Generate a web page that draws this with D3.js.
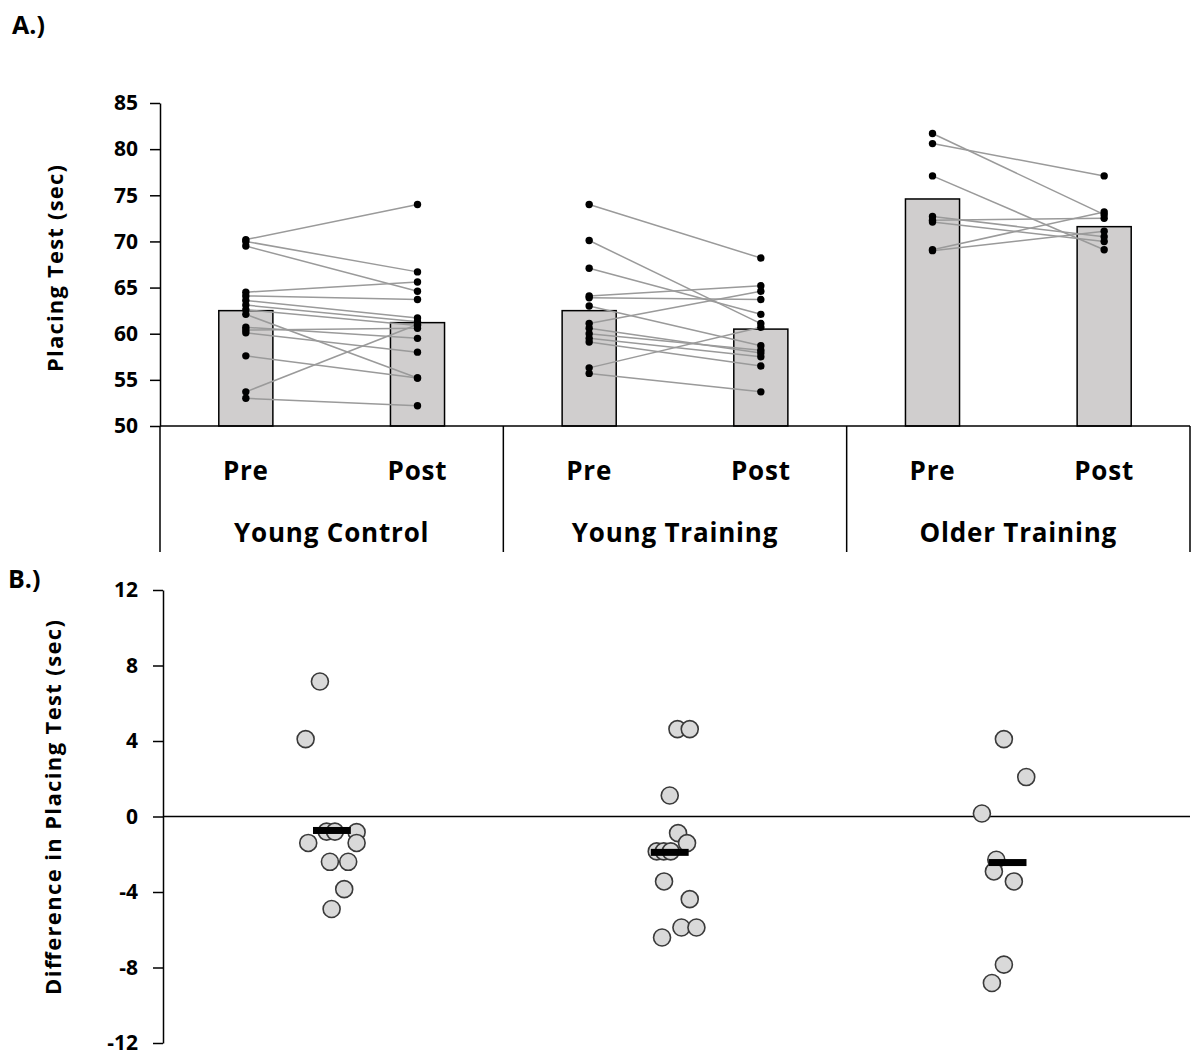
<!DOCTYPE html>
<html>
<head>
<meta charset="utf-8">
<script src="https://cdn.jsdelivr.net/npm/d3@7"></script>
<style>
  body { margin: 0; background: #fff; }
  text { font-family: "Open Sans", "Noto Sans", sans-serif; font-weight: 700; fill: #000; }
</style>
</head>
<body>
<svg id="chart" width="1201" height="1055"></svg>
<script>
// ---- Panel A: placing test times (sec), pre and post, per participant ----
const groups = ["Young Control", "Young Training", "Older Training"];
const phases = ["Pre", "Post"];
const groupMeans = [[62.5, 61.2], [62.5, 60.5], [74.6, 71.6]];

const youngControlPre  = [70.2, 70.0, 69.5, 64.5, 64.1, 63.6, 63.1, 62.6, 62.1, 60.7, 60.4, 60.1, 57.6, 53.7, 53.0];
const youngControlPost = [74.0, 66.7, 64.6, 65.6, 63.7, 61.7, 61.3, 60.9, 55.2, 59.5, 60.6, 58.0, 55.2, 61.0, 52.2];
const youngTrainingPre  = [74.0, 70.1, 67.1, 64.1, 63.9, 63.0, 61.1, 60.6, 60.0, 59.5, 59.1, 56.3, 55.7];
const youngTrainingPost = [68.2, 61.1, 62.1, 65.2, 63.7, 58.7, 64.6, 57.9, 58.2, 57.5, 56.5, 60.7, 53.7];
const olderTrainingPre  = [81.7, 80.6, 77.1, 72.7, 72.3, 72.1, 69.1, 69.0];
const olderTrainingPost = [72.9, 77.1, 69.1, 70.5, 72.5, 70.0, 73.2, 71.1];

const placingTicks = [50, 55, 60, 65, 70, 75, 80, 85];

// ---- Panel B: post - pre differences (sec) with scatter x positions ----
const diffTicks = [-12, -8, -4, 0, 4, 8, 12];
const diffGroupX = [0.5, 1.5, 2.5];
const diffMeans = [-0.74, -1.9, -2.44];

const youngControlDiff  = [7.15, 4.1, -0.8, -0.8, -0.83, -1.4, -1.4, -2.4, -2.4, -3.85, -4.9];
const youngControlDiffX = [0.4645, 0.4222, 0.4843, 0.5089, 0.5731, 0.5731, 0.4299, 0.4941, 0.5482, 0.5364, 0.4991];
const youngTrainingDiff  = [4.63, 4.63, 1.11, -0.88, -1.41, -1.85, -1.85, -1.85, -3.44, -4.38, -5.88, -5.88, -6.41];
const youngTrainingDiffX = [1.5228, 1.5592, 1.5000, 1.5246, 1.5512, 1.4615, 1.4822, 1.5030, 1.4831, 1.5592, 1.5346, 1.5790, 1.4772];
const olderTrainingDiff  = [4.1, 2.09, 0.16, -2.29, -2.91, -3.44, -7.85, -8.82];
const olderTrainingDiffX = [2.4891, 2.5553, 2.4240, 2.4666, 2.4595, 2.5186, 2.4891, 2.4536];

// ---------------------------------------------------------------------
const svg = d3.select("#chart");
const plainNumber = d => String(d);   // hyphen-minus, as in the source figure

const participants = [
  [youngControlPre, youngControlPost],
  [youngTrainingPre, youngTrainingPost],
  [olderTrainingPre, olderTrainingPost]
].map(([pre, post], g) => pre.map((v, i) => ({ g, pre: v, post: post[i] })));

const diffPoints = [
  [youngControlDiff, youngControlDiffX],
  [youngTrainingDiff, youngTrainingDiffX],
  [olderTrainingDiff, olderTrainingDiffX]
].flatMap(([vals, xs]) => vals.map((v, i) => ({ v, x: xs[i] })));

// Panel labels
svg.append("text").attr("x", 12).attr("y", 34).style("font-size", "25px").text("A.)");
svg.append("text").attr("x", 8).attr("y", 588).style("font-size", "25px").text("B.)");

// ===================== Panel A =====================
const axisX = 160, plotRight = 1190;
const yA = d3.scaleLinear().domain([50, 85]).range([426, 103]);
const xGroup = d3.scaleBand().domain(groups).range([axisX, plotRight]);
const xPhase = d3.scalePoint().domain(phases).range([0, xGroup.bandwidth()]).padding(0.5);
const barW = xPhase.step() * 0.315;
const px = (g, phase) => xGroup(groups[g]) + xPhase(phase);

const gA = svg.append("g");

// bars
gA.selectAll("rect.bar")
  .data(groupMeans.flatMap((m, g) => phases.map((p, j) => ({ g, p, v: m[j] }))))
  .join("rect")
  .attr("class", "bar")
  .attr("x", d => px(d.g, d.p) - barW / 2)
  .attr("y", d => yA(d.v))
  .attr("width", barW)
  .attr("height", d => yA(50) - yA(d.v))
  .attr("fill", "#d0cece")
  .attr("stroke", "#000")
  .attr("stroke-width", 1.5);

// participant lines
const allParticipants = participants.flat();
gA.selectAll("line.pair")
  .data(allParticipants)
  .join("line")
  .attr("x1", d => px(d.g, "Pre"))
  .attr("x2", d => px(d.g, "Post"))
  .attr("y1", d => yA(d.pre))
  .attr("y2", d => yA(d.post))
  .attr("stroke", "#9a9a9a")
  .attr("stroke-width", 1.5);

// participant dots
gA.selectAll("circle.pre")
  .data(allParticipants)
  .join("circle")
  .attr("cx", d => px(d.g, "Pre"))
  .attr("cy", d => yA(d.pre))
  .attr("r", 3.7)
  .attr("fill", "#000");
gA.selectAll("circle.post")
  .data(allParticipants)
  .join("circle")
  .attr("cx", d => px(d.g, "Post"))
  .attr("cy", d => yA(d.post))
  .attr("r", 3.7)
  .attr("fill", "#000");

// y axis
const axA = gA.append("g")
  .attr("transform", `translate(${axisX},0)`)
  .call(d3.axisLeft(yA).tickValues(placingTicks).tickFormat(plainNumber)
        .tickSize(10).tickSizeOuter(0).tickPadding(12));
axA.selectAll("path, line").attr("stroke", "#000").attr("stroke-width", 1.5);
axA.selectAll("text").style("font-size", "21px").style("font-family", null);

// category axis: baseline, separators, labels
gA.append("line")
  .attr("x1", axisX).attr("x2", plotRight)
  .attr("y1", yA(50)).attr("y2", yA(50))
  .attr("stroke", "#000").attr("stroke-width", 1.5);
gA.selectAll("line.sep")
  .data([...groups.map(g => xGroup(g)), plotRight])
  .join("line")
  .attr("x1", d => d).attr("x2", d => d)
  .attr("y1", yA(50)).attr("y2", 552)
  .attr("stroke", "#000").attr("stroke-width", 1.5);
gA.selectAll("text.phase")
  .data(groups.flatMap((g, i) => phases.map(p => ({ g: i, p }))))
  .join("text")
  .attr("x", d => px(d.g, d.p))
  .attr("y", 480)
  .attr("text-anchor", "middle")
  .style("font-size", "26px")
  .style("letter-spacing", "0.8px")
  .text(d => d.p);
gA.selectAll("text.group")
  .data(groups)
  .join("text")
  .attr("x", d => xGroup(d) + xGroup.bandwidth() / 2)
  .attr("y", 542)
  .attr("text-anchor", "middle")
  .style("font-size", "26px")
  .style("letter-spacing", "0.8px")
  .text(d => d);

gA.append("text")
  .attr("transform", `translate(54,${(165 + 372) / 2}) rotate(-90)`)
  .attr("text-anchor", "middle")
  .attr("dominant-baseline", "central")
  .attr("textLength", 207)
  .attr("lengthAdjust", "spacing")
  .style("font-size", "22px")
  .text("Placing Test (sec)");

// ===================== Panel B =====================
const axisXB = 163;
const yB = d3.scaleLinear().domain([-12, 12]).range([1043, 590]);
const xB = d3.scaleLinear().domain([0, 3.04]).range([axisXB, plotRight]);
const gB = svg.append("g");

const axB = gB.append("g")
  .attr("transform", `translate(${axisXB},0)`)
  .call(d3.axisLeft(yB).tickValues(diffTicks).tickFormat(plainNumber)
        .tickSize(10).tickSizeOuter(0).tickPadding(15));
axB.selectAll("path, line").attr("stroke", "#000").attr("stroke-width", 1.5);
axB.selectAll("text").style("font-size", "21px").style("font-family", null);

gB.append("line")
  .attr("x1", axisXB).attr("x2", plotRight)
  .attr("y1", yB(0)).attr("y2", yB(0))
  .attr("stroke", "#000").attr("stroke-width", 1.5);

gB.selectAll("circle.diff")
  .data(diffPoints)
  .join("circle")
  .attr("cx", d => xB(d.x))
  .attr("cy", d => yB(d.v))
  .attr("r", 8.5)
  .attr("fill", "#d9d9d9")
  .attr("stroke", "#3a3a3a")
  .attr("stroke-width", 1.6);

const meanHalf = 0.056;
gB.selectAll("rect.mean")
  .data(diffMeans.map((v, i) => ({ v, x: diffGroupX[i] })))
  .join("rect")
  .attr("x", d => xB(d.x - meanHalf))
  .attr("width", d => xB(d.x + meanHalf) - xB(d.x - meanHalf))
  .attr("y", d => yB(d.v) - 3.5)
  .attr("height", 7)
  .attr("fill", "#000");

gB.append("text")
  .attr("transform", `translate(52,${(620 + 995) / 2}) rotate(-90)`)
  .attr("text-anchor", "middle")
  .attr("dominant-baseline", "central")
  .attr("textLength", 375)
  .attr("lengthAdjust", "spacing")
  .style("font-size", "22px")
  .text("Difference in Placing Test (sec)");
</script>
</body>
</html>
